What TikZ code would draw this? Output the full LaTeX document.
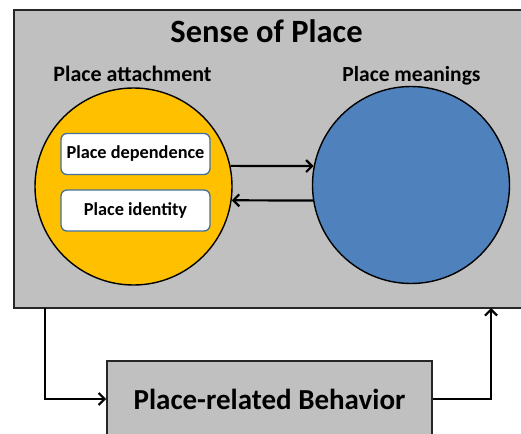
\documentclass[tikz,border=0pt]{standalone}
\usepackage{fontspec}
\setmainfont{Carlito}
\usetikzlibrary{arrows.meta,positioning,calc}
\definecolor{PanelGray}{RGB}{192,192,192}
\definecolor{AttachYellow}{RGB}{255,192,0}
\definecolor{MeaningBlue}{RGB}{79,129,189}
\definecolor{BoxEdge}{RGB}{65,113,156}
\tikzset{
  panel/.style={draw=black!85, line width=1.6pt, fill=PanelGray, rectangle, inner sep=0pt},
  place/.style={circle, draw=black, line width=1.4pt, minimum size=197pt, inner sep=0pt},
  partbox/.style={draw=BoxEdge, line width=1.3pt, fill=white, rounded corners=6pt,
    minimum width=149pt, minimum height=41pt, inner sep=0pt,
    font=\fontsize{18.3}{22}\selectfont\bfseries},
  link/.style={line width=2.2pt, -{Straight Barb[length=6pt,width=12pt,line width=2.2pt]}}
}

\begin{document}
\begin{tikzpicture}[x=1pt,y=-1pt]
    \useasboundingbox (0,0) rectangle (521,433);
    \clip (0,0) rectangle (521,433);
    %%Background
    \node[panel, minimum width=516pt, minimum height=298pt] (sense) at (272,159) {};
    \node[anchor=base, font=\fontsize{32.5}{38}\selectfont\bfseries] (title) at (266.5,43) {Sense of Place};
    %%Circles
    \node[place, fill=AttachYellow] (attach) at (133.5,186.5) {};
    \node[place, fill=MeaningBlue] (meaning) at (411,185) {};
    \node[anchor=base, font=\fontsize{22}{26}\selectfont\bfseries] (attlabel) at (132.5,82) {Place attachment};
    \node[anchor=base, font=\fontsize{21.5}{26}\selectfont\bfseries] (meanlabel) at (411.5,82) {Place meanings};
    %%Parts of attachment
    \node[partbox] (depend) at (135.5,154) {Place dependence};
    \node[partbox] (ident) at (135.5,210.5) {Place identity};
    %%Arrows between circles
    \draw[link] (attach.12) to (meaning.169);
    \draw[link] (meaning.189) to (attach.-8);
    %%Behavior
    \node[panel, minimum width=325pt, minimum height=76pt,
      font=\fontsize{29}{34}\selectfont\bfseries] (behave) at (269.5,399) {Place-related Behavior};
    \coordinate (leave) at (45,308);
    \coordinate (enter) at (491,308);
    \draw[link] (leave) |- (behave.west);
    \draw[link] (behave.east) -| (enter);
\end{tikzpicture}
\end{document}
